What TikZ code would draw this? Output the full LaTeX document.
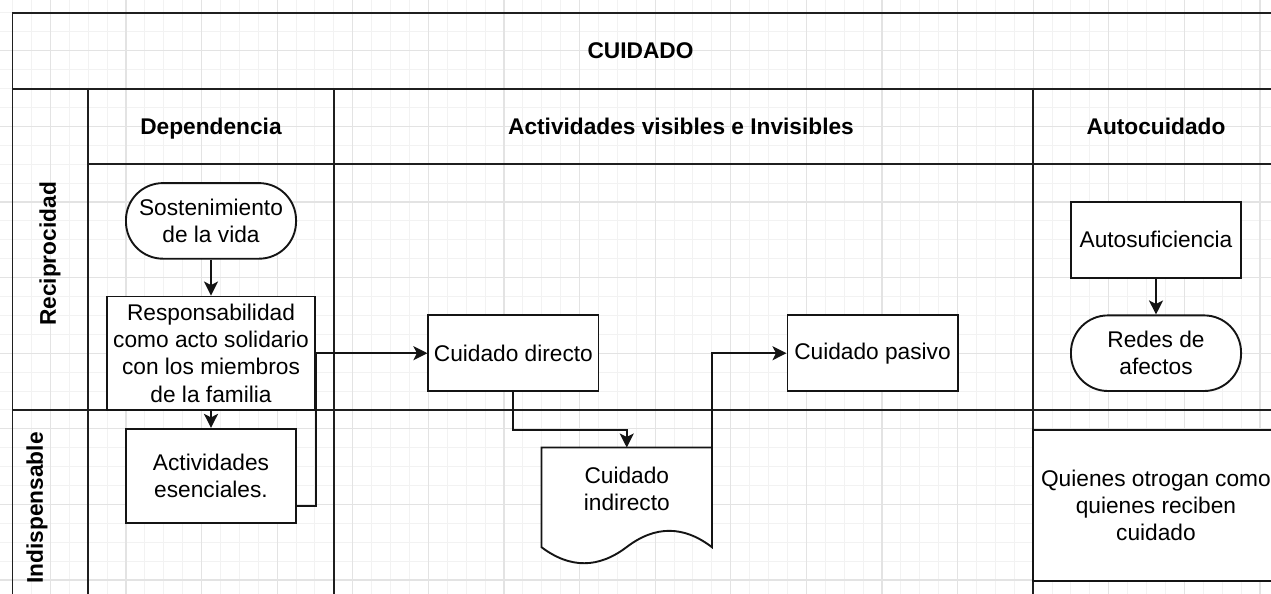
\documentclass[tikz,border=0pt]{standalone}
\usepackage{fontspec}
\setmainfont{Liberation Sans}
\usetikzlibrary{arrows.meta,calc}
\newcommand{\dfont}{\fontsize{22.7}{27.2}\selectfont}
\begin{document}
\begin{tikzpicture}[x=1pt,y=-1pt,
  minorgrid/.style={draw=black!5,line width=1pt},
  majorgrid/.style={draw=black!11,line width=1.2pt},
  lanes/.style={draw=black!88,line width=1.9pt},
  box/.style={draw=black!92,line width=1.9pt,fill=white,inner sep=0pt,align=center,font=\dfont,text=black},
  term/.style={box,rounded corners=37pt},
  txt/.style={inner sep=0pt,align=center,font=\dfont,text=black},
  hdr/.style={txt,font=\dfont\bfseries},
  hdrc/.style={hdr,text height=16.3pt,text depth=0pt},
  conn/.style={draw=black!92,line width=1.9pt,-{Stealth[length=14pt,width=14pt,inset=3.5pt]}}
]
\path[use as bounding box] (0,0) rectangle (1271,594);
\clip (0,0) rectangle (1271,594);
\fill[white] (0,0) rectangle (1271,594);
% grid
\foreach \i in {0,...,68} \draw[minorgrid] ({12.5+18.9*(\i-1)},0) -- ++(0,594);
\foreach \j in {0,...,33} \draw[minorgrid] (0,{13+18.9*(\j-1)}) -- ++(1271,0);
\foreach \i in {0,...,18} \draw[majorgrid] ({50.3+75.6*(\i-1)},0) -- ++(0,594);
\foreach \j in {0,...,9} \draw[majorgrid] (0,{50.8+75.6*(\j-1)}) -- ++(1271,0);
% swimlane frame
\draw[lanes] (12.5,640) -- (12.5,13) -- (1290,13);
\draw[lanes] (12.5,88.6) -- (1290,88.6);
\draw[lanes] (88.1,88.6) -- (88.1,640);
\draw[lanes] (88.1,164.2) -- (1290,164.2);
\draw[lanes] (333.8,88.6) -- (333.8,640);
\draw[lanes] (1033.1,88.6) -- (1033.1,640);
\draw[lanes] (12.5,409.9) -- (1290,409.9);
% headers
\node[hdrc] (title) at (640.5,50.6) {CUIDADO};
\node[hdrc] (hdep) at (211,126.6) {Dependencia};
\node[hdrc] (hact) at (681,126.6) {Actividades visibles e Invisibles};
\node[hdrc] (hauto) at (1156,126.0) {Autocuidado};
\node[hdr,rotate=90] (lrec) at (50,254) {Reciprocidad};
\node[hdr,rotate=90] (lind) at (37,508) {Indispensable};
% nodes
\node[term,minimum width=170.1pt,minimum height=75.6pt] (sost) at (211,220.9) {Sostenimiento\\de la vida};
\node[box,minimum width=207.9pt,minimum height=113.4pt] (resp) at (211,353.2) {Responsabilidad\\como acto solidario\\con los miembros\\de la familia};
\node[box,minimum width=170.1pt,minimum height=94.5pt] (act) at (211,476.1) {Actividades\\esenciales.};
\node[box,minimum width=170.1pt,minimum height=75.6pt] (cd) at (513.4,353.2) {Cuidado directo};
\node[box,minimum width=170.1pt,minimum height=75.6pt] (cp) at (872.5,353.2) {Cuidado pasivo};
\node[box,minimum width=170.1pt,minimum height=75.6pt] (autos) at (1156,239.8) {Autosuficiencia};
\node[term,minimum width=170.1pt,minimum height=75.6pt] (redes) at (1156,353.2) {Redes de\\afectos};
\node[box,minimum width=245.7pt,minimum height=151.2pt] (quien) at (1155.9,505.4) {Quienes otrogan como\\quienes reciben\\cuidado};
% document shape
\node[inner sep=0pt,minimum width=170.1pt,minimum height=99.3pt] (doc) at (626.75,497.35) {};
\filldraw[draw=black!92,fill=white,line width=1.9pt,line join=miter]
  (doc.north west) -- (doc.north east) -- (doc.south east)
  .. controls (683.5,525.4) and (655.1,525.4) .. (626.75,547)
  .. controls (598.4,568.6) and (570.0,568.6) .. (doc.south west) -- cycle;
\node[txt] (doctxt) at (626.8,489) {Cuidado\\indirecto};
% connectors
\draw[conn] (sost) -- (resp);
\draw[conn] (resp) -- (act);
\draw[conn] ($(act.east)+(0,29.9)$) -- ($(resp.east)+(0,152.8)$) |- (cd.west);
\draw[conn] (cd.south) -- ++(0,37.8) -| (doc.north);
\draw[conn] (doc.east) |- (cp.west);
\draw[conn] (autos) -- (redes);
\end{tikzpicture}
\end{document}
